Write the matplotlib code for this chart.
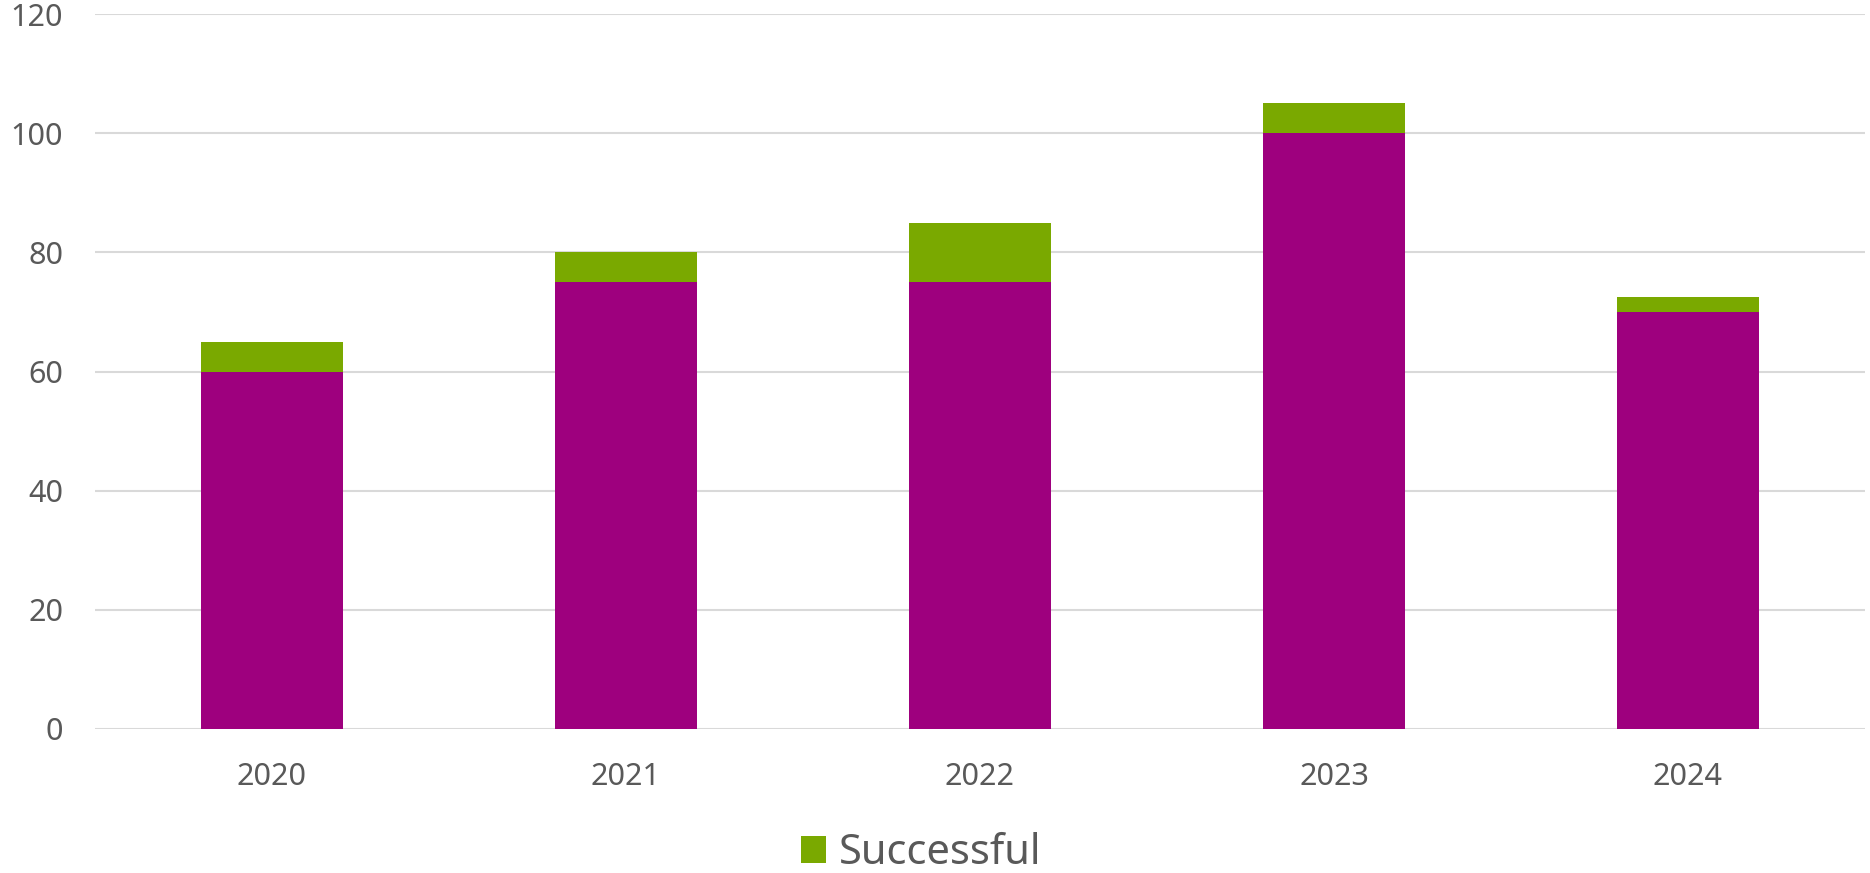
import matplotlib
matplotlib.use("Agg")
import matplotlib.pyplot as plt

# Data
years = ["2020", "2021", "2022", "2023", "2024"]
base_values = [60, 75, 75, 100, 70]
successful = [5, 5, 10, 5, 2.5]

purple = "#9E007E"
green = "#7AA900"
text_col = "#595959"
grid_col = "#D9D9D9"

plt.rcParams['font.family'] = ['Noto Sans', 'DejaVu Sans']

fig = plt.figure(figsize=(18.7, 8.73), dpi=100)
ax = fig.add_axes([95 / 1870, 1 - 729 / 873, 1770 / 1870, 715 / 873])

x = range(len(years))
ax.bar(x, base_values, width=0.4, color=purple, zorder=3)
bars_s = ax.bar(x, successful, width=0.4, bottom=base_values, color=green,
                zorder=3, label="Successful")

ax.set_xlim(-0.5, len(years) - 0.5)
ax.set_ylim(0, 120)
ax.set_yticks(range(0, 121, 20))
ax.set_xticks(list(x))
ax.set_xticklabels(years)

ax.yaxis.grid(True, color=grid_col, linewidth=1.5, zorder=0)
for s in ax.spines.values():
    s.set_visible(False)
ax.tick_params(axis="both", length=0, labelsize=22, colors=text_col)
ax.tick_params(axis="y", pad=23)
ax.tick_params(axis="x", pad=24)

fig.legend(handles=[bars_s], loc="center", bbox_to_anchor=(921 / 1870, 1 - 853 / 873),
           frameon=False, fontsize=30, labelcolor=text_col,
           handlelength=0.6, handleheight=0.6, handletextpad=0.3)

fig.savefig("out.png", dpi=100)
